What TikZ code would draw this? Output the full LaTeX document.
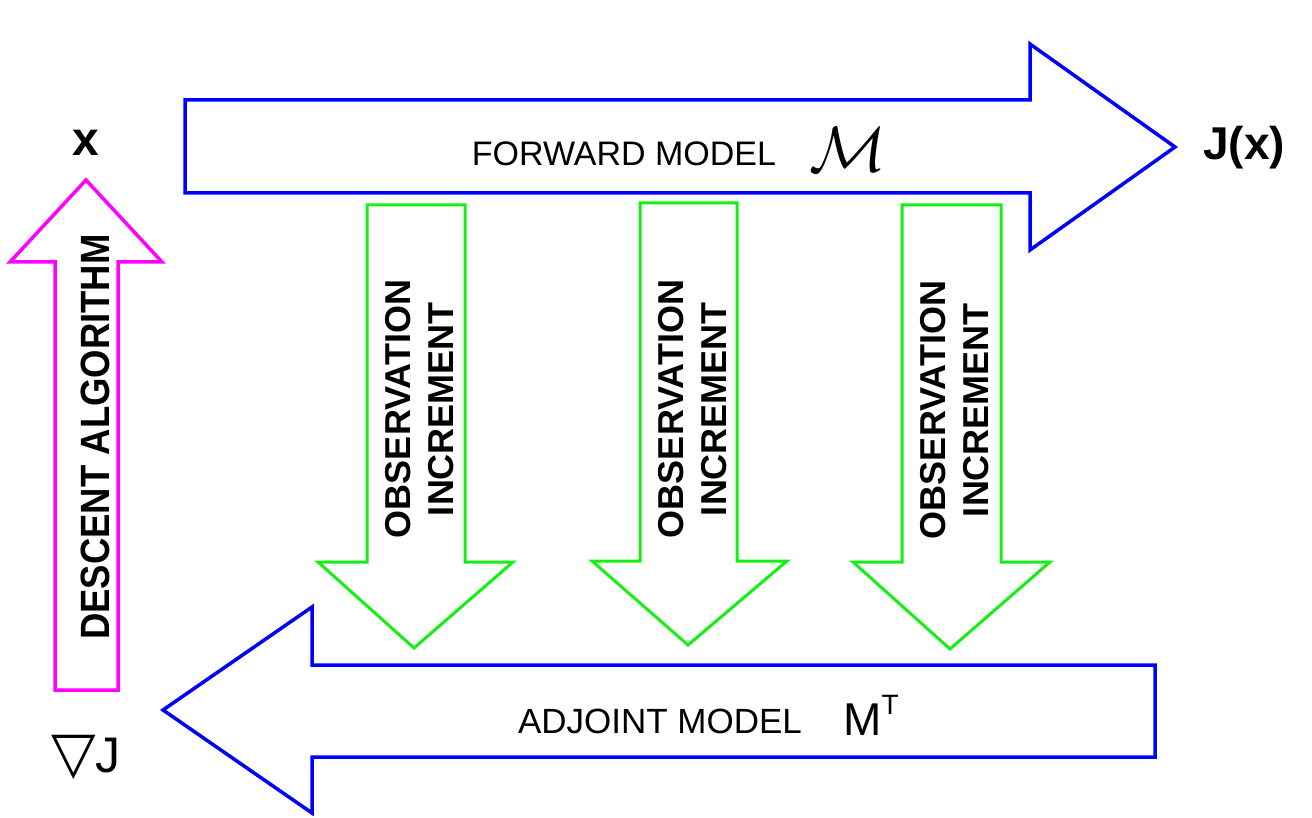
\documentclass[tikz,border=0pt]{standalone}
\usepackage{fontspec}
\setmainfont{Liberation Sans}
\newfontfamily\dejavu{DejaVu Sans}
\definecolor{fwdblue}{RGB}{0,0,255}
\definecolor{obsgreen}{RGB}{20,240,20}
\definecolor{descmag}{RGB}{255,0,255}
\begin{document}
\begin{tikzpicture}[x=1pt,y=-1pt,line join=miter,
  bluearrow/.style={draw=fwdblue,line width=3.5pt},
  greenarrow/.style={draw=obsgreen,line width=3pt},
  magarrow/.style={draw=descmag,line width=3.5pt},
  lbl/.style={inner sep=0pt,text=black},
  obs/.style={lbl,rotate=90,align=center,font=\bfseries\fontsize{36}{43}\selectfont}]
\useasboundingbox (0,0) rectangle (1312,818);
\fill[white] (0,0) rectangle (1312,818);
% forward model arrow
\draw[bluearrow] (185,100) -- (1030,100) -- (1030,44) -- (1175,147) -- (1030,250) -- (1030,193) -- (185,193) -- cycle;
% adjoint model arrow
\draw[bluearrow] (1155,665) -- (312,665) -- (312,607) -- (163,710) -- (312,813) -- (312,757) -- (1155,757) -- cycle;
% descent algorithm arrow
\draw[magarrow] (55,690) -- (55,262) -- (10,262) -- (86,180) -- (162,262) -- (118,262) -- (118,690) -- cycle;
% observation increment arrows
\draw[greenarrow] (367,205) -- (465,205) -- (465,562) -- (513,562) -- (414,648) -- (318,562) -- (367,562) -- cycle;
\draw[greenarrow] (640,203) -- (737,203) -- (737,561) -- (787,561) -- (688,645) -- (592,561) -- (640,561) -- cycle;
\draw[greenarrow] (902,205) -- (1001,205) -- (1001,562) -- (1050,562) -- (950,649) -- (853,562) -- (902,562) -- cycle;
% labels
\node[lbl,font=\fontsize{34}{34}\selectfont] (fwd) at (624,154) {FORWARD MODEL};
\node[lbl] (calM) at (848,150) {\scalebox{6.4}{$\mathcal{M}$}};
\node[lbl,font=\fontsize{35}{35}\selectfont] (adj) at (660,721) {ADJOINT MODEL};
\node[lbl,anchor=base west] (MT) at (843,735) {\fontsize{46}{46}\selectfont M\raisebox{21pt}{\fontsize{28}{28}\selectfont T}};
\node[lbl,font=\bfseries\fontsize{48}{48}\selectfont] (x) at (86,143) {x};
\node[lbl,font=\bfseries\fontsize{46}{46}\selectfont] (Jx) at (1244,148) {J(x)};
\node[lbl,anchor=base] (gradJ) at (86,772) {{\dejavu\fontsize{58}{58}\selectfont ▽}{\fontsize{50}{50}\selectfont J}};
\node[lbl,rotate=90,font=\bfseries\fontsize{36.5}{36.5}\selectfont] (descent) at (95,437) {\scalebox{1}[1.12]{DESCENT ALGORITHM}};
\node[obs] (obs1) at (420,409) {OBSERVATION\\INCREMENT};
\node[obs] (obs2) at (693,409) {OBSERVATION\\INCREMENT};
\node[obs] (obs3) at (955,410) {OBSERVATION\\INCREMENT};
\end{tikzpicture}
\end{document}
